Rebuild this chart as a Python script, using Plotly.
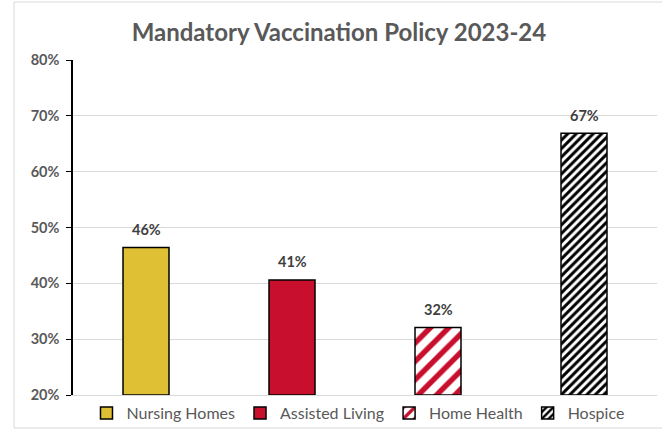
import plotly.graph_objects as go

# values
categories = ["Nursing Homes", "Assisted Living", "Home Health", "Hospice"]
values = [0.464, 0.406, 0.321, 0.669]
labels = ["46%", "41%", "32%", "67%"]

COLOR_TEXT = "#595959"
BASE = 0.2

styles = [
    dict(color="#DFC035"),
    dict(color="#C8102E"),
    dict(color="white", pattern=dict(shape="/", fgcolor="#C8102E", bgcolor="white",
                                     size=13, solidity=0.42, fillmode="overlay", fgopacity=1)),
    dict(color="white", pattern=dict(shape="/", fgcolor="black", bgcolor="white",
                                     size=6, solidity=0.5, fillmode="overlay", fgopacity=1)),
]

fig = go.Figure()

for cat, val, style in zip(categories, values, styles):
    fig.add_trace(go.Bar(
        x=[cat], y=[val - BASE], base=BASE,
        name=cat,
        width=0.315,
        marker=dict(line=dict(color="black", width=1.5), **style),
        hoverinfo="skip",
    ))

# data labels above bars
for cat, val, lab in zip(categories, values, labels):
    fig.add_annotation(
        x=cat, y=val, text=f"<b>{lab}</b>",
        showarrow=False, yshift=18,
        font=dict(size=14.5, color="#404040"),
    )

# outer chart frame
fig.add_shape(
    type="rect", xref="paper", yref="paper",
    x0=-0.101, x1=1.2, y0=-0.0985, y1=1.173,
    line=dict(color="#D9D9D9", width=1), layer="above",
)

fig.update_layout(
    width=662, height=435,
    margin=dict(l=73, r=5, t=60, b=40),
    plot_bgcolor="white", paper_bgcolor="white",
    font=dict(family="Lato, 'Open Sans', sans-serif", color=COLOR_TEXT),
    title=dict(
        text="<b>Mandatory Vaccination Policy 2023-24</b>",
        x=0.512, xanchor="center", y=0.924, yanchor="middle",
        font=dict(size=24, color=COLOR_TEXT),
    ),
    barmode="overlay",
    showlegend=True,
    legend=dict(
        orientation="h", x=0.488, xanchor="center", y=-0.054, yanchor="middle",
        font=dict(size=16, color=COLOR_TEXT),
        itemwidth=30, tracegroupgap=0, bgcolor="rgba(0,0,0,0)",
    ),
    xaxis=dict(
        showticklabels=False, showgrid=False, zeroline=False,
        showline=True, linecolor="#D9D9D9", linewidth=1,
        range=[-0.5, 3.5],
    ),
    yaxis=dict(
        range=[0.2, 0.8], dtick=0.1, tickformat=".0%",
        showgrid=True, gridcolor="#D9D9D9", gridwidth=1, zeroline=False,
        showline=True, linecolor="black", linewidth=1.5,
        ticks="outside", ticklen=5, tickcolor="black",
        ticklabelstandoff=4,
        tickfont=dict(size=14.5, color=COLOR_TEXT, family="Lato, sans-serif", weight="bold"),
    ),
)

fig.write_html("out.html", config={"displayModeBar": False},
               post_script="document.body.style.margin='0';")
